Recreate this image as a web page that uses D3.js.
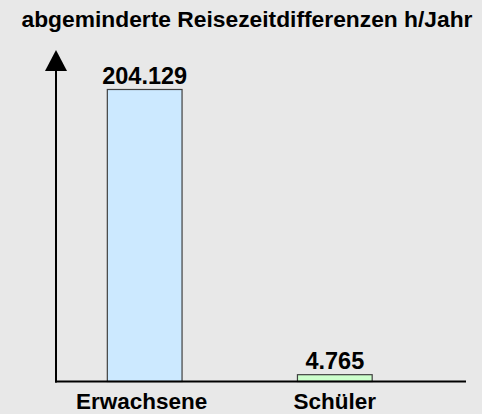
<!DOCTYPE html>
<html><head><meta charset="utf-8">
<script src="https://cdn.jsdelivr.net/npm/d3@7"></script>
<style>body{margin:0;background:#e8e8e8;}svg{display:block;}</style>
</head><body>
<svg id="c" width="482" height="414"></svg>
<script>
const title = "abgeminderte Reisezeitdifferenzen h/Jahr";
const categories = ["Erwachsene", "Schüler"];
const values = [204.129, 4.765];
const valueLabels = ["204.129", "4.765"];
const colors = ["#cce9ff", "#ccffcc"];

const svg = d3.select("#c");
svg.append("rect").attr("width",482).attr("height",414).attr("fill","#e8e8e8");
const font = "'Liberation Sans', Arial, sans-serif";

const x = d3.scaleBand().domain(categories).range([69.3, 410.2]).paddingInner(0.607).paddingOuter(0.2);
const y = d3.scaleLinear().domain([0, 204.129]).range([381.5, 89.5]);

svg.append("text").attr("x",247).attr("y",27).attr("text-anchor","middle")
  .attr("font-family",font).attr("font-weight","bold").attr("font-size",22.8).text(title);

svg.selectAll("rect.bar").data(values).join("rect").attr("class","bar")
  .attr("x",(d,i)=>x(categories[i])).attr("width",x.bandwidth())
  .attr("y",d=>y(d)).attr("height",d=>y(0)-y(d))
  .attr("fill",(d,i)=>colors[i]).attr("stroke","#404040").attr("stroke-width",1.2);

svg.selectAll("text.val").data(values).join("text").attr("class","val")
  .attr("x",(d,i)=>x(categories[i])+x.bandwidth()/2).attr("y",d=>y(d)-6)
  .attr("text-anchor","middle").attr("font-family",font).attr("font-weight","bold")
  .attr("font-size",23.5).text((d,i)=>valueLabels[i]);

// axes
svg.append("line").attr("x1",55).attr("x2",466).attr("y1",381.5).attr("y2",381.5).attr("stroke","#000").attr("stroke-width",2);
svg.append("line").attr("x1",56).attr("x2",56).attr("y1",382.5).attr("y2",66).attr("stroke","#000").attr("stroke-width",2);
svg.append("path").attr("d","M56,50 L45,71 L67,71 Z").attr("fill","#000");

svg.selectAll("text.cat").data(categories).join("text").attr("class","cat")
  .attr("x",d=>x(d)+x.bandwidth()/2 - (d==="Erwachsene"?3:0)).attr("y",409).attr("text-anchor","middle")
  .attr("font-family",font).attr("font-weight","bold").attr("font-size",22.5).text(d=>d);
</script>
</body></html>
